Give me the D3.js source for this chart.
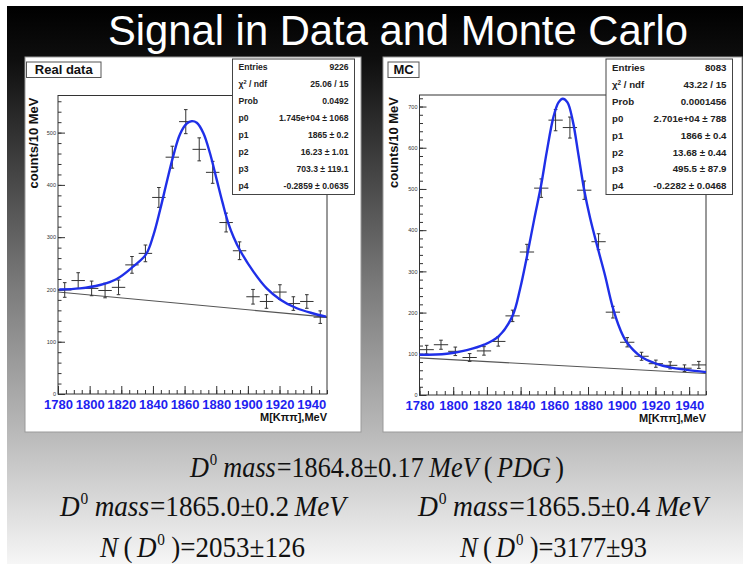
<!DOCTYPE html>
<html><head><meta charset="utf-8">
<script src="https://cdn.jsdelivr.net/npm/d3@7"></script>
<style>body{margin:0;background:#fff}svg{display:block}</style>
</head><body>
<svg id="c" width="743" height="564"></svg>
<script>
// ---------- data ----------
const binCenters = [1784.25,1792.75,1801.25,1809.75,1818.25,1826.75,1835.25,1843.75,1852.25,1860.75,
                    1869.25,1877.75,1886.25,1894.75,1903.25,1911.75,1920.25,1928.75,1937.25,1945.75];
const binHalfWidth = 4.25;

const realCounts = [199,217,202,198,204,247,269,376,453,521,468,424,328,274,186,177,195,173,177,147];
const realErrors = [14,15,14,14,14,16,16,19,21,23,22,21,18,17,14,13,14,13,13,12];
const mcCounts   = [110,122,106,91,107,130,192,347,502,667,649,497,372,201,128,94,76,72,65,73];
const mcErrors   = [10.5,11,10.3,9.5,10.3,11.4,13.9,18.6,22.4,25.8,25.5,22.3,19.3,14.2,11.3,9.7,8.7,8.5,8.1,8.5];

// fitted curve (mass, counts)
const realFitX = [1780.8,1793.9,1806.5,1817.1,1827.6,1835.6,1840.3,1844.5,1848.7,1852.9,1857.1,1861.3,1864.5,
                  1867.7,1871.9,1876.1,1880.3,1884,1887.5,1891,1895,1903.5,1911.9,1920.3,1930.9,1941.4,1949.4];
const realFitY = [200,202,208.5,220,244,267,304,352,405,456,497,517,522,
                  519,499,460,410,366,328,300,275,234,202,181,164,154,148];
const mcFitX = [1780,1796.2,1808.1,1818.4,1826.9,1835.2,1839.7,1843.7,1848,1852.2,1855.5,1859.5,1862.5,1865,
                1867.8,1871,1874.3,1877.7,1881.2,1886.2,1890.1,1894.5,1899,1903,1911.3,1919.8,1928.7,1938.6,1950];
const mcFitY = [97.6,100,109,122,142,192,258,335,425,510,590,675,710,719,
                710,664,583,498,430,350,290,215,160,128,93.5,77,67,61,55.6];

// background lines (endpoints)
const realBgX = [1780,1950], realBgY = [195,147];
const mcBgX   = [1780,1950], mcBgY   = [90,52];

const xTicks = [1780,1800,1820,1840,1860,1880,1900,1920,1940];
const realYTicks = [0,100,200,300,400,500];
const mcYTicks = [0,100,200,300,400,500,600,700];

const statNames = ["Entries","χ²/ndf","Prob","p0","p1","p2","p3","p4"];
const realStats = ["9226","25.06 / 15","0.0492","1.745e+04 ± 1068","1865 ± 0.2","16.23 ± 1.01","703.3 ± 119.1","-0.2859 ± 0.0635"];
const mcStats   = ["8083","43.22 / 15","0.0001456","2.701e+04 ± 788","1866 ± 0.4","13.68 ± 0.44","495.5 ± 87.9","-0.2282 ± 0.0468"];

const titleText = "Signal in Data and Monte Carlo";

// ---------- drawing ----------
const svg = d3.select("#c");
const defs = svg.append("defs");
const g = defs.append("linearGradient").attr("id","bg").attr("x1",0).attr("y1",0).attr("x2",0).attr("y2",1);
[[0,"#000"],[0.1,"#0f0f0f"],[0.5,"#7a7a7a"],[0.76,"#b8b8b8"],[1,"#f6f6f6"]].forEach(([o,c])=>
  g.append("stop").attr("offset",o).attr("stop-color",c));

svg.append("rect").attr("width",743).attr("height",564).attr("fill","#fff");
svg.append("rect").attr("x",7).attr("y",6).attr("width",736).attr("height",558).attr("fill","url(#bg)");

svg.append("text").attr("x",398).attr("y",45).attr("text-anchor","middle")
  .attr("font-family","Liberation Sans, Arial, sans-serif").attr("font-size",42)
  .attr("fill","#fff").attr("textLength",580).attr("lengthAdjust","spacingAndGlyphs").text(titleText);

const SANS = "Liberation Sans, Arial, sans-serif";

function panel(p){
  const c = svg.append("g");
  c.append("rect").attr("x",p.canvas[0]).attr("y",p.canvas[1]).attr("width",p.canvas[2]).attr("height",p.canvas[3])
    .attr("fill","#fff").attr("stroke","#9a9a9a").attr("stroke-width",1);
  const [fx,fy,fw,fh] = p.frame;
  const x = d3.scaleLinear().domain([1780,1950]).range([fx,fx+fw]);
  const y = d3.scaleLinear().domain([0,p.yMax]).range([fy+fh,fy]);

  c.append("rect").attr("x",fx).attr("y",fy).attr("width",fw).attr("height",fh)
    .attr("fill","none").attr("stroke","#333").attr("stroke-width",1);

  const minorY = d3.range(0,p.yMax,20);
  c.append("g").attr("transform",`translate(${fx},0)`)
    .call(d3.axisLeft(y).tickValues(minorY).tickSize(-3.5).tickFormat(""))
    .call(s=>{s.select(".domain").remove();s.selectAll("line").attr("stroke","#333");});
  c.append("g").attr("transform",`translate(${fx},0)`)
    .call(d3.axisLeft(y).tickValues(p.yTicks).tickSize(-7).tickPadding(2))
    .call(s=>{s.select(".domain").remove();s.selectAll("line").attr("stroke","#333");
      s.selectAll("text").attr("font-size",5.5).attr("font-family",SANS).attr("fill","#333");});

  const minorX = d3.range(1780,1951,5);
  c.append("g").attr("transform",`translate(0,${fy+fh})`)
    .call(d3.axisBottom(x).tickValues(minorX).tickSize(-4).tickFormat(""))
    .call(s=>{s.select(".domain").remove();s.selectAll("line").attr("stroke","#333");});
  c.append("g").attr("transform",`translate(0,${fy+fh})`)
    .call(d3.axisBottom(x).tickValues(xTicks).tickSize(-8).tickPadding(3).tickFormat(d3.format("d")))
    .call(s=>{s.select(".domain").remove();s.selectAll("line").attr("stroke","#333");
      s.selectAll("text").attr("font-size",13).attr("font-weight","bold").attr("font-family",SANS)
        .attr("fill","#1f1ff0").attr("dy","0.95em");});

  c.append("text").attr("x",fx+fw).attr("y",fy+fh+27).attr("text-anchor","end")
    .attr("font-family",SANS).attr("font-weight","bold").attr("font-size",11).attr("fill","#111").text("M[Kππ],MeV");
  c.append("text").attr("transform",`translate(${p.ytitleX},${fy+2}) rotate(-90)`).attr("text-anchor","end")
    .attr("font-family",SANS).attr("font-weight","bold").attr("font-size",13).attr("fill","#111").text("counts/10 MeV");

  c.append("line").attr("x1",x(p.bgX[0])).attr("y1",y(p.bgY[0])).attr("x2",x(p.bgX[1])).attr("y2",y(p.bgY[1]))
    .attr("stroke","#555").attr("stroke-width",1.1);

  const pts = c.append("g").attr("stroke","#333").attr("stroke-width",1);
  binCenters.forEach((m,i)=>{
    const v=p.counts[i], e=p.errors[i];
    pts.append("line").attr("x1",x(m-binHalfWidth)).attr("x2",x(m+binHalfWidth)).attr("y1",y(v)).attr("y2",y(v));
    pts.append("line").attr("x1",x(m)).attr("x2",x(m)).attr("y1",y(v-e)).attr("y2",y(v+e));
    [v-e,v+e].forEach(t=>pts.append("line").attr("x1",x(m)-1.8).attr("x2",x(m)+1.8).attr("y1",y(t)).attr("y2",y(t)));
  });

  const line = d3.line().x(d=>x(d[0])).y(d=>y(d[1])).curve(d3.curveCatmullRom.alpha(0.5));
  c.append("path").attr("d",line(p.fitX.map((m,i)=>[m,p.fitY[i]])))
    .attr("fill","none").attr("stroke","#1f2fe8").attr("stroke-width",2.4);

  const [lx,ly,lw,lh] = p.labelBox;
  c.append("rect").attr("x",lx).attr("y",ly).attr("width",lw).attr("height",lh)
    .attr("fill","#fff").attr("stroke","#555").attr("stroke-width",1);
  c.append("text").attr("x",lx+lw/2).attr("y",ly+lh/2+4.6).attr("text-anchor","middle")
    .attr("font-family",SANS).attr("font-weight","bold").attr("font-size",13).attr("fill","#111").text(p.label);

  const [sx,sy,sw,sh] = p.statBox;
  c.append("rect").attr("x",sx).attr("y",sy).attr("width",sw).attr("height",sh)
    .attr("fill","#fff").attr("stroke","#444").attr("stroke-width",1);
  const rh = sh/statNames.length;
  statNames.forEach((n,i)=>{
    const ty = sy + rh*(i+0.5) + p.statFont*0.35;
    const t = c.append("text").attr("x",sx+6).attr("y",ty).attr("font-family",SANS).attr("font-weight","bold")
      .attr("font-size",p.statFont).attr("fill","#222");
    if(n==="χ²/ndf"){ t.append("tspan").text("χ"); t.append("tspan").attr("font-size",p.statFont*0.65).attr("dy",-3).text("2");
      t.append("tspan").attr("dy",3).text(" / ndf"); }
    else t.text(n);
    c.append("text").attr("x",sx+sw-6).attr("y",ty).attr("text-anchor","end").attr("font-family",SANS).attr("font-weight","bold")
      .attr("font-size",p.statFont).attr("fill","#222").text(p.stats[i]);
  });
}

panel({canvas:[25,57,336,375], frame:[58,95.5,269,298.5], yMax:571, yTicks:realYTicks,
  counts:realCounts, errors:realErrors, fitX:realFitX, fitY:realFitY, bgX:realBgX, bgY:realBgY,
  label:"Real data", labelBox:[26.5,62,74.5,15.5], statBox:[232.5,59,122,135.5], stats:realStats, statFont:8.6, ytitleX:38});
panel({canvas:[383,57,359,375], frame:[419.5,95,286.5,300], yMax:728, yTicks:mcYTicks,
  counts:mcCounts, errors:mcErrors, fitX:mcFitX, fitY:mcFitY, bgX:mcBgX, bgY:mcBgY,
  label:"MC", labelBox:[388,62,31,15.5], statBox:[606,59,126.5,135.5], stats:mcStats, statFont:9.7, ytitleX:398});

// ---------- formulas ----------
const SERIF = "Liberation Serif, Times New Roman, serif";
const formulaLines = [
  {x:190, y:477, w:374, parts:[["D","i"],["0","s"],["mass","i"],["=1864.8±0.17",""],["MeV","i"],["(",""],["PDG","i"],[")",""]]},
  {x:60,  y:516, w:286, parts:[["D","i"],["0","s"],["mass","i"],["=1865.0±0.2",""],["MeV","i"]]},
  {x:418, y:516, w:290, parts:[["D","i"],["0","s"],["mass","i"],["=1865.5±0.4",""],["MeV","i"]]},
  {x:100, y:557, w:205, parts:[["N","i"],["(",""],["D","i"],["0","s"],[")=2053±126",""]]},
  {x:460, y:557, w:187, parts:[["N","i"],["(",""],["D","i"],["0","s"],[")=3177±93",""]]}
];
const gapAfter = {"D":1,"0":7,"mass":1,"MeV":6,"(":5,"PDG":5,"N":6};
formulaLines.forEach(L=>{
  const outer = svg.append("g").attr("transform",`translate(${L.x},${L.y})`);
  const inner = outer.append("g");
  let cursor = 0;
  L.parts.forEach(([s,k],idx)=>{
    const t = inner.append("text").attr("x",cursor).attr("y",k==="s"?-12:0)
      .attr("font-family",SERIF).attr("font-size",k==="s"?17:30).attr("fill","#111").text(s);
    if(k==="i") t.attr("font-style","italic");
    let gap = gapAfter[s] !== undefined ? gapAfter[s] : 6;
    if(k==="s") gap = 7;
    if(idx===L.parts.length-1) gap = 0;
    cursor += t.node().getComputedTextLength() + gap;
  });
  inner.attr("transform",`scale(${L.w/cursor},1)`);
});
</script>
</body></html>
